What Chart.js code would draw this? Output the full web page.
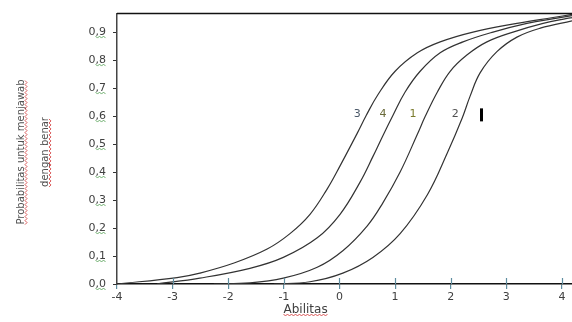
<!DOCTYPE html>
<html lang="id">
<head>
  <meta charset="UTF-8">
  <title>Kurva karakteristik butir</title>
  <script src="https://cdn.jsdelivr.net/npm/chart.js"></script>
  <style>
    html, body { margin: 0; padding: 0; background: #fff; }
    #wrap { width: 572px; height: 322px; }
  </style>
</head>
<body>
  <div id="wrap"><canvas id="chart-1" width="572" height="322"></canvas></div>

  <script>
    // nilai (abilitas, probabilitas)
    const curve3X = [-4.00, -2.92, -2.51, -1.91, -1.30, -0.89, -0.53, -0.22, 0.01, 0.32, 0.48, 0.69, 1.00, 1.40, 1.81, 2.40, 3.19, 3.84, 4.18];
    const curve3Y = [0.000, 0.023, 0.039, 0.074, 0.125, 0.180, 0.249, 0.340, 0.422, 0.539, 0.602, 0.676, 0.760, 0.826, 0.865, 0.900, 0.931, 0.952, 0.963];

    const curve4X = [-3.28, -2.51, -1.61, -1.01, -0.40, 0.01, 0.37, 0.60, 0.78, 0.96, 1.18, 1.45, 1.81, 2.22, 2.76, 3.37, 3.91, 4.18];
    const curve4Y = [0.000, 0.021, 0.056, 0.095, 0.165, 0.249, 0.364, 0.455, 0.530, 0.602, 0.686, 0.760, 0.826, 0.865, 0.900, 0.931, 0.950, 0.959];

    const curve1X = [-2.26, -1.61, -1.01, -0.40, 0.06, 0.50, 0.78, 1.09, 1.40, 1.54, 1.76, 1.99, 2.29, 2.65, 3.12, 3.66, 4.09, 4.18];
    const curve1Y = [0.000, 0.004, 0.021, 0.060, 0.119, 0.208, 0.290, 0.400, 0.535, 0.598, 0.686, 0.760, 0.818, 0.865, 0.900, 0.931, 0.949, 0.952];

    const curve2X = [-1.18, -0.53, 0.06, 0.60, 1.09, 1.58, 1.94, 2.21, 2.35, 2.53, 2.83, 3.19, 3.61, 4.18];
    const curve2Y = [0.000, 0.008, 0.039, 0.095, 0.180, 0.319, 0.469, 0.595, 0.672, 0.755, 0.830, 0.882, 0.914, 0.940];

    const xTicks = [-4, -3, -2, -1, 0, 1, 2, 3, 4];
    const yTicks = [0, 0.1, 0.2, 0.3, 0.4, 0.5, 0.6, 0.7, 0.8, 0.9];

    // label nomor butir di dalam grafik
    const itemLabels = ['3', '4', '1', '2'];
    const itemLabelX = [0.32, 0.78, 1.32, 2.08];
    const itemLabelY = 0.606;
    const itemLabelColors = ['#4a5868', '#6a6a3a', '#7a7a2c', '#505050'];
    const cursorX = 2.55;

    const xTitle = 'Abilitas';
    const yTitle = ['Probabilitas untuk menjawab', 'dengan benar'];

    const toPoints = (xs, ys) => xs.map((v, i) => ({ x: v, y: ys[i] }));

    // garis bergelombang (tanda ejaan)
    function wavy(ctx, x0, y0, len, vertical, color) {
      ctx.save();
      ctx.strokeStyle = color;
      ctx.lineWidth = 0.8;
      ctx.beginPath();
      for (let i = 0; i <= len; i += 2) {
        const off = (i / 2) % 2 === 0 ? -1 : 1;
        const px = vertical ? x0 + off : x0 + i;
        const py = vertical ? y0 - i : y0 + off;
        if (i === 0) ctx.moveTo(px, py); else ctx.lineTo(px, py);
      }
      ctx.stroke();
      ctx.restore();
    }

    const extras = {
      id: 'extras',
      afterDraw(chart) {
        const { ctx, chartArea: a, scales: { x, y } } = chart;
        ctx.save();

        // garis atas
        ctx.strokeStyle = '#111';
        ctx.lineWidth = 1.5;
        ctx.beginPath();
        ctx.moveTo(a.left, a.top);
        ctx.lineTo(a.right, a.top);
        ctx.stroke();

        // bagian atas tanda tick sumbu x
        ctx.strokeStyle = '#5f8ea0';
        ctx.lineWidth = 1.2;
        xTicks.slice(1).forEach(v => {
          const px = Math.round(x.getPixelForValue(v)) + 0.5;
          ctx.beginPath();
          ctx.moveTo(px, a.bottom - 6);
          ctx.lineTo(px, a.bottom);
          ctx.stroke();
        });

        // label butir
        ctx.font = '11px "DejaVu Sans"';
        ctx.textAlign = 'center';
        ctx.textBaseline = 'middle';
        itemLabels.forEach((t, i) => {
          ctx.fillStyle = itemLabelColors[i];
          ctx.fillText(t, x.getPixelForValue(itemLabelX[i]), y.getPixelForValue(itemLabelY));
        });
        ctx.fillStyle = '#000';
        const cx = Math.round(x.getPixelForValue(cursorX));
        const cy = y.getPixelForValue(itemLabelY);
        ctx.fillRect(cx - 1, cy - 6, 3, 13);

        // judul sumbu x
        ctx.font = '12px "DejaVu Sans"';
        ctx.fillStyle = '#404040';
        ctx.textAlign = 'center';
        const tx = x.getPixelForValue(-0.61);
        ctx.fillText(xTitle, tx, 310);
        const tw = ctx.measureText(xTitle).width;
        wavy(ctx, tx - tw / 2, 315, tw, false, '#d03030');

        // judul sumbu y (diputar)
        ctx.font = '10px "DejaVu Sans"';
        ctx.fillStyle = '#505050';
        const cyT = 152;
        [21, 45].forEach((lx, i) => {
          ctx.save();
          ctx.translate(lx, cyT);
          ctx.rotate(-Math.PI / 2);
          ctx.fillText(yTitle[i], 0, 0);
          ctx.restore();
          const w = ctx.measureText(yTitle[i]).width;
          wavy(ctx, lx + 5, cyT + w / 2, w, true, '#d03030');
        });

        // tanda hijau pada label tick y
        ctx.font = '11px "DejaVu Sans"';
        const right = a.left - 11;
        yTicks.forEach(v => {
          const lbl = v.toFixed(1).replace('.', ',');
          const w = ctx.measureText(lbl.slice(1)).width;
          wavy(ctx, right - w, y.getPixelForValue(v) + 5, w, false, '#4a9a4a');
        });

        ctx.restore();
      }
    };

    const lineStyle = {
      borderColor: '#333',
      borderWidth: 1.2,
      pointRadius: 0,
      fill: false,
      tension: 0.4
    };

    const chart = new Chart(document.getElementById('chart-1'), {
      type: 'line',
      data: {
        datasets: [
          { label: '3', data: toPoints(curve3X, curve3Y), ...lineStyle },
          { label: '4', data: toPoints(curve4X, curve4Y), ...lineStyle },
          { label: '1', data: toPoints(curve1X, curve1Y), ...lineStyle },
          { label: '2', data: toPoints(curve2X, curve2Y), ...lineStyle }
        ]
      },
      options: {
        responsive: false,
        animation: false,
        events: [],
        layout: { autoPadding: false, padding: { top: 8, right: 0, left: 0, bottom: 0 } },
        plugins: { legend: { display: false }, tooltip: { enabled: false } },
        scales: {
          x: {
            type: 'linear',
            min: -4,
            max: 4.18,
            afterBuildTicks: s => { s.ticks = xTicks.map(v => ({ value: v })); },
            afterFit: s => { s.height = 38; },
            grid: { drawOnChartArea: false, tickLength: 5, color: '#5f8ea0', lineWidth: 1.2 },
            border: { display: true, color: '#111', width: 1.5 },
            ticks: {
              padding: 2,
              color: '#404040',
              font: { family: 'DejaVu Sans', size: 11 },
              maxRotation: 0,
              callback: v => String(v)
            }
          },
          y: {
            min: 0,
            max: 0.966,
            afterBuildTicks: s => { s.ticks = yTicks.map(v => ({ value: v })); },
            afterFit: s => { s.width = 117; },
            grid: { drawOnChartArea: false, tickLength: 4, color: '#333', lineWidth: 1 },
            border: { display: true, color: '#444', width: 1.5 },
            ticks: {
              padding: 7,
              color: '#404040',
              font: { family: 'DejaVu Sans', size: 11 },
              callback: v => v.toFixed(1).replace('.', ',')
            }
          }
        }
      },
      plugins: [extras]
    });
  </script>
</body>
</html>
